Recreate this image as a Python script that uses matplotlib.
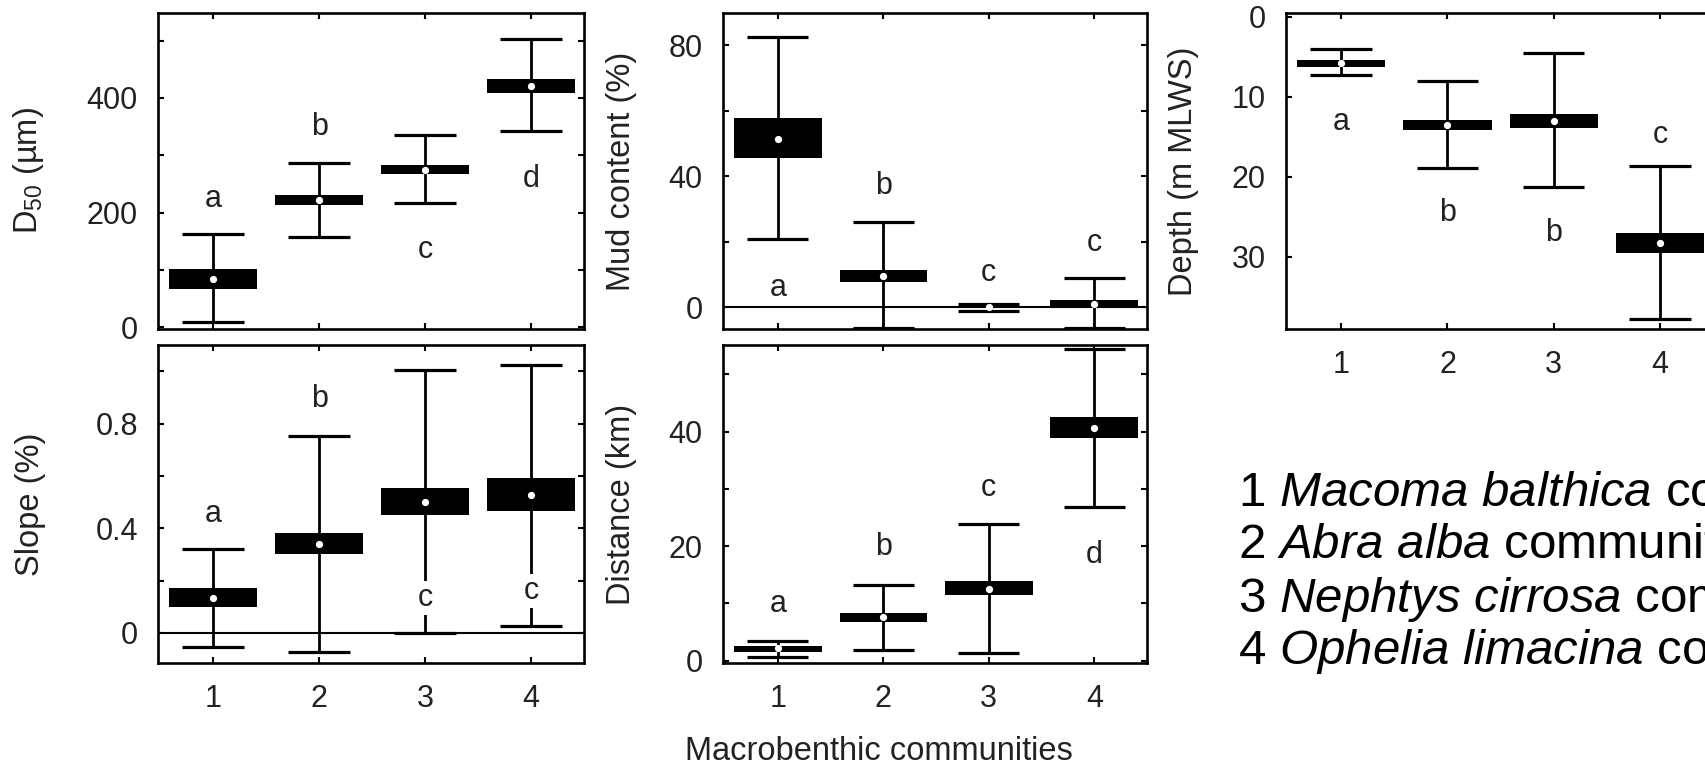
import matplotlib
matplotlib.use("Agg")
import matplotlib.pyplot as plt
from matplotlib.ticker import FixedLocator

plt.rcParams['font.family'] = ['Liberation Sans', 'DejaVu Sans']
plt.rcParams['mathtext.fontset'] = 'custom'
plt.rcParams['mathtext.rm'] = 'Liberation Sans'
plt.rcParams['mathtext.it'] = 'Liberation Sans:italic'
plt.rcParams['mathtext.bf'] = 'Liberation Sans:bold'

# ---------------- data ----------------
communities = [1, 2, 3, 4]
xtick_labels = ["1", "2", "3", "4"]

# D50 (um)
d50_lo = [9, 157, 217, 342]
d50_q1 = [67, 214, 268, 408]
d50_mean = [84, 222, 275, 421]
d50_q3 = [102, 230, 283, 433]
d50_hi = [162, 287, 335, 503]
d50_letters = ["a", "b", "c", "d"]
d50_letter_y = [224, 350, 135, 259]

# Slope (%)
slope_lo = [-0.054, -0.072, 0.0, 0.026]
slope_q1 = [0.098, 0.302, 0.450, 0.465]
slope_mean = [0.132, 0.340, 0.499, 0.527]
slope_q3 = [0.171, 0.382, 0.552, 0.592]
slope_hi = [0.321, 0.754, 1.003, 1.025]
slope_letters = ["a", "b", "c", "c"]
slope_letter_y = [0.456, 0.894, 0.134, 0.159]

# Mud content (%)
mud_lo = [20.9, -6.4, -1.2, -6.4]
mud_q1 = [45.7, 7.8, -0.1, -0.2]
mud_mean = [51.5, 9.5, 0.0, 1.0]
mud_q3 = [57.8, 11.2, 0.2, 2.2]
mud_hi = [82.7, 26.0, 0.9, 8.8]
mud_letters = ["a", "b", "c", "c"]
mud_letter_y = [5.9, 37.0, 10.5, 19.7]

# Distance (km)
dist_lo = [0.6, 1.8, 1.3, 26.9]
dist_q1 = [1.5, 6.7, 11.4, 38.9]
dist_mean = [2.2, 7.6, 12.6, 40.6]
dist_q3 = [2.5, 8.3, 13.9, 42.5]
dist_hi = [3.5, 13.3, 23.8, 54.4]
dist_letters = ["a", "b", "c", "d"]
dist_letter_y = [9.9, 19.9, 30.1, 18.4]

# Depth (m MLWS)
depth_lo = [4.1, 8.1, 4.6, 18.7]
depth_q1 = [5.4, 12.9, 12.1, 27.0]
depth_mean = [5.75, 13.5, 13.0, 28.3]
depth_q3 = [6.3, 14.1, 13.9, 29.5]
depth_hi = [7.3, 18.9, 21.3, 37.7]
depth_letters = ["a", "b", "b", "c"]
depth_letter_y = [13.1, 24.5, 27.0, 14.8]

legend_lines = [
    r"1 $\mathit{Macoma}$ $\mathit{balthica}$ community",
    r"2 $\mathit{Abra}$ $\mathit{alba}$ community",
    r"3 $\mathit{Nephtys}$ $\mathit{cirrosa}$ community",
    r"4 $\mathit{Ophelia}$ $\mathit{limacina}$ community",
]

# ---------------- figure ----------------
W, H = 1706, 766
fig = plt.figure(figsize=(W / 100, H / 100), dpi=100)
fig.patch.set_facecolor("white")

TXT = "#222222"
FS = 22
FS_LABEL = 23.5


def add_axes(l, r, t, b):
    return fig.add_axes([l / W, 1 - b / H, (r - l) / W, (b - t) / H])


def draw_panel(ax, lo, q1, mean, q3, hi, letters, letter_y, ylim, majors,
               minors, ylabel, show_x=True, zero_line=False, label_x=-0.24):
    ax.set_xlim(0.48, 4.5)
    ax.set_ylim(*ylim)
    if zero_line:
        ax.axhline(0, color="black", lw=1.5, zorder=1)
    ax.vlines(communities, lo, hi, color="black", lw=2.0, zorder=2)
    ax.hlines(lo, [c - 0.29 for c in communities], [c + 0.29 for c in communities],
              color="black", lw=2.3, zorder=2)
    ax.hlines(hi, [c - 0.29 for c in communities], [c + 0.29 for c in communities],
              color="black", lw=2.3, zorder=2)
    ax.bar(communities, [b - a for a, b in zip(q1, q3)], bottom=q1, width=0.83,
           color="black", zorder=3)
    ax.plot(communities, mean, linestyle="none", marker="o", ms=4.2,
            mfc="white", mec="white", zorder=4)
    for c, lt, ly in zip(communities, letters, letter_y):
        ax.text(c, ly, lt, ha="center", va="center", fontsize=FS, color=TXT,
                zorder=5,
                bbox=dict(facecolor="white", edgecolor="none", pad=1.5))
    ax.xaxis.set_major_locator(FixedLocator(communities))
    ax.yaxis.set_major_locator(FixedLocator(majors))
    ax.yaxis.set_minor_locator(FixedLocator(minors))
    ax.set_yticklabels([("%g" % m) for m in majors])
    if show_x:
        ax.set_xticklabels(xtick_labels)
    else:
        ax.set_xticklabels([])
    ax.tick_params(which="both", direction="in", top=True, right=True,
                   length=4, width=1.5, labelsize=FS, labelcolor=TXT)
    ax.tick_params(axis="y", pad=14.5)
    ax.tick_params(axis="x", pad=15)
    for s in ax.spines.values():
        s.set_linewidth(1.9)
    ax.set_ylabel(ylabel, fontsize=FS_LABEL, color=TXT)
    ax.yaxis.set_label_coords(label_x, 0.5)
    ax.yaxis.label.set_verticalalignment("center")


ax_d50 = add_axes(158, 584, 13, 329)
draw_panel(ax_d50, d50_lo, d50_q1, d50_mean, d50_q3, d50_hi, d50_letters,
           d50_letter_y, (-3, 548), [0, 200, 400], [100, 300, 500],
           r"D$_{50}$ (µm)", show_x=False, label_x=-0.305)

ax_slope = add_axes(158, 584, 345, 663)
draw_panel(ax_slope, slope_lo, slope_q1, slope_mean, slope_q3, slope_hi,
           slope_letters, slope_letter_y, (-0.115, 1.10), [0, 0.4, 0.8],
           [0.2, 0.6, 1.0], "Slope (%)", show_x=True, zero_line=True,
           label_x=-0.30)

ax_mud = add_axes(723, 1147, 13, 329)
draw_panel(ax_mud, mud_lo, mud_q1, mud_mean, mud_q3, mud_hi, mud_letters,
           mud_letter_y, (-6.7, 89.9), [0, 40, 80], [20, 60],
           "Mud content (%)", show_x=False, zero_line=True, label_x=-0.24)

ax_dist = add_axes(723, 1147, 345, 663)
draw_panel(ax_dist, dist_lo, dist_q1, dist_mean, dist_q3, dist_hi,
           dist_letters, dist_letter_y, (-0.4, 55.1), [0, 20, 40],
           [10, 30, 50], "Distance (km)", show_x=True, label_x=-0.24)

ax_depth = add_axes(1286, 1713, 13, 329)
draw_panel(ax_depth, depth_lo, depth_q1, depth_mean, depth_q3, depth_hi,
           depth_letters, depth_letter_y, (39.0, -0.45), [0, 10, 20, 30],
           [], "Depth (m MLWS)", show_x=True, label_x=-0.24)

fig.text(879 / W, 1 - 752 / H, "Macrobenthic communities", ha="center",
         va="center", fontsize=FS_LABEL, color=TXT)

for i, line in enumerate(legend_lines):
    fig.text(1238 / W, 1 - (493 + 53 * i) / H, line, ha="left", va="center",
             fontsize=35.5, color="black")

fig.savefig("out.png", dpi=100, facecolor="white")
